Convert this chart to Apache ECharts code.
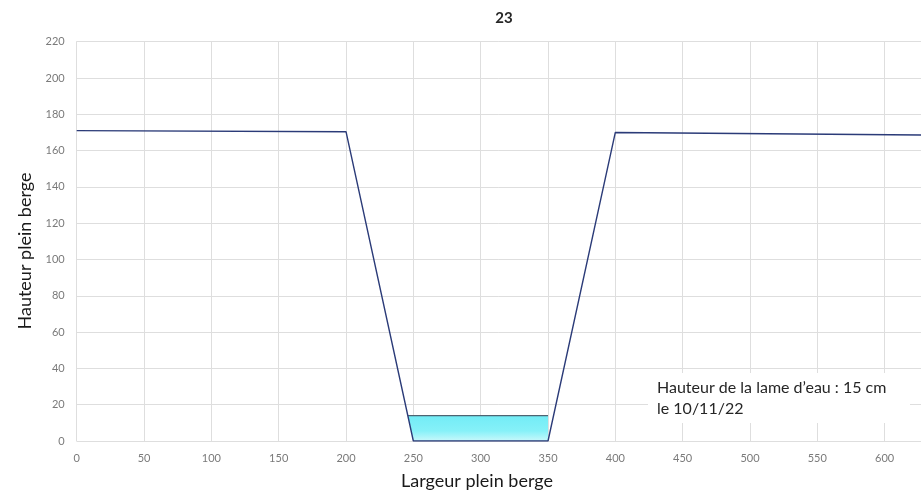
<!DOCTYPE html>
<html>
<head>
<meta charset="utf-8">
<script src="https://cdn.jsdelivr.net/npm/echarts@6/dist/echarts.min.js"></script>
<style>
  html, body { margin: 0; padding: 0; background: #ffffff; }
  #chart { width: 921px; height: 497px; }
</style>
</head>
<body>
<div id="chart"></div>
<script>
// Cross-section profile of the stream bed (width in cm, height in cm)
const profileX = [0, 200, 250, 350, 400, 627];
const profileY = [171, 170.4, 0, 0, 170, 168.6];

// Water body on the bed, measured 10/11/22
const waterX = [246, 350, 350, 250];
const waterY = [14, 14, 0, 0];
const waterLevel = 14;

const xTicks = { min: 0, max: 627, interval: 50 };
const yTicks = { min: 0, max: 220, interval: 20 };

const chartTitle = '23';
const xTitle = 'Largeur plein berge';
const yTitle = 'Hauteur plein berge';
const note = ['Hauteur de la lame d\u2019eau : 15 cm', 'le 10/11/22'];

const profile = profileX.map((x, i) => [x, profileY[i]]);
const water = waterX.map((x, i) => [x, waterY[i]]);
const waterTop = [[waterX[0], waterLevel], [waterX[1], waterLevel]];

const FONT = 'Lato, "Open Sans", sans-serif';
const chart = echarts.init(document.getElementById('chart'), null, { renderer: 'canvas' });

chart.setOption({
  animation: false,
  backgroundColor: '#ffffff',
  grid: { left: 76.7, top: 41.7, right: 0, bottom: 56, containLabel: false },
  xAxis: {
    type: 'value',
    min: xTicks.min, max: xTicks.max, interval: xTicks.interval,
    axisLine: { show: false },
    axisTick: { show: false },
    axisLabel: { color: '#7a7a7a', fontFamily: FONT, fontSize: 11, margin: 12, showMaxLabel: false },
    splitLine: { show: true, lineStyle: { color: '#dedede', width: 1 } }
  },
  yAxis: {
    type: 'value',
    min: yTicks.min, max: yTicks.max, interval: yTicks.interval,
    axisLine: { show: true, lineStyle: { color: '#dedede' } },
    axisTick: { show: false },
    axisLabel: { color: '#7a7a7a', fontFamily: FONT, fontSize: 11, margin: 12 },
    splitLine: { show: true, lineStyle: { color: '#dedede', width: 1 } }
  },
  graphic: [
    {
      type: 'text', x: 504, y: 18,
      style: { text: chartTitle, fontFamily: FONT, fontSize: 15, fontWeight: 'bold', fill: '#262626', align: 'center', verticalAlign: 'middle' }
    },
    {
      type: 'text', x: 477, y: 481,
      style: { text: xTitle, fontFamily: FONT, fontSize: 18, fill: '#1a1a1a', align: 'center', verticalAlign: 'middle' }
    },
    {
      type: 'text', x: 25, y: 251, rotation: Math.PI / 2,
      style: { text: yTitle, fontFamily: FONT, fontSize: 18, fill: '#1a1a1a', align: 'center', verticalAlign: 'middle' }
    },
    {
      type: 'rect', z: 50,
      shape: { x: 648, y: 373, width: 262, height: 50 },
      style: { fill: '#ffffff' }
    },
    {
      type: 'text', x: 657, y: 377.5, z: 51,
      style: { text: note.join('\n'), fontFamily: FONT, fontSize: 16, lineHeight: 21, fill: '#262626' }
    }
  ],
  series: [
    {
      type: 'custom',
      coordinateSystem: 'cartesian2d',
      data: [0],
      silent: true,
      z: 1,
      renderItem: function (params, api) {
        const pts = water.map(p => api.coord(p));
        const top = api.coord([0, waterLevel])[1];
        const bottom = api.coord([0, 0])[1];
        return {
          type: 'polygon',
          shape: { points: pts },
          style: {
            fill: new echarts.graphic.LinearGradient(0, top, 0, bottom, [
              { offset: 0, color: '#72ecf6' },
              { offset: 0.6, color: '#86f1f8' },
              { offset: 1, color: '#c8f8fb' }
            ], true)
          }
        };
      }
    },
    {
      type: 'line',
      data: waterTop,
      symbol: 'none',
      silent: true,
      z: 2,
      lineStyle: { color: '#4d6472', width: 1.2 }
    },
    {
      type: 'line',
      data: profile,
      symbol: 'none',
      silent: true,
      z: 3,
      lineStyle: { color: '#2b3b78', width: 1.4 }
    }
  ]
});
</script>
</body>
</html>
